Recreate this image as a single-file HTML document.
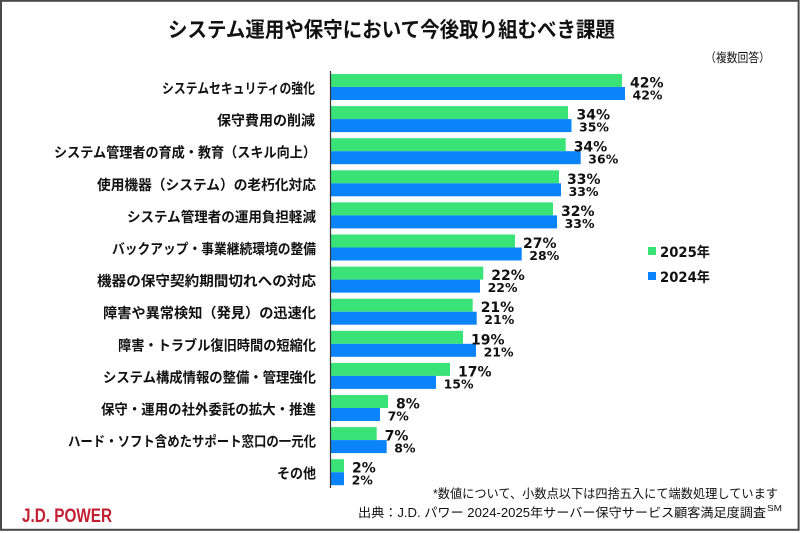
<!DOCTYPE html>
<html>
<head>
<meta charset="utf-8">
<style>
html,body{margin:0;padding:0;background:#fff;}
svg{display:block;}
.cat{font-family:"Noto Sans CJK JP","Liberation Sans",sans-serif;font-weight:bold;font-size:14px;fill:#111;}
.v1{font-family:"DejaVu Sans","Liberation Sans",sans-serif;font-weight:bold;font-size:14px;fill:#111;}
.v2{font-family:"DejaVu Sans","Liberation Sans",sans-serif;font-weight:bold;font-size:12.5px;fill:#111;}
</style>
</head>
<body>
<svg width="800" height="533" viewBox="0 0 800 533" xmlns="http://www.w3.org/2000/svg">
<rect x="0" y="0" width="800" height="533" fill="#fff"/>
<rect x="1" y="0.8" width="797.6" height="529" fill="none" stroke="#4a4a4a" stroke-width="2"/>

<!-- Title -->
<text x="168" y="37" textLength="447" lengthAdjust="spacingAndGlyphs" style="font-family:'Noto Sans CJK JP',sans-serif;font-weight:bold;font-size:21px;fill:#111;">システム運用や保守において今後取り組むべき課題</text>
<text x="705" y="62" textLength="65" lengthAdjust="spacingAndGlyphs" style="font-family:'Noto Sans CJK JP',sans-serif;font-size:12.5px;fill:#111;">（複数回答）</text>

<!-- Bars -->
<g>
<rect x="331" y="74" width="291" height="13" fill="#3ae378"/>
<rect x="331" y="87" width="294" height="13" fill="#0a84f8"/>
<rect x="331" y="106.1" width="237" height="13" fill="#3ae378"/>
<rect x="331" y="119.1" width="240.5" height="13" fill="#0a84f8"/>
<rect x="331" y="138.2" width="234.7" height="13" fill="#3ae378"/>
<rect x="331" y="151.2" width="249.7" height="13" fill="#0a84f8"/>
<rect x="331" y="170.3" width="228" height="13" fill="#3ae378"/>
<rect x="331" y="183.3" width="230" height="13" fill="#0a84f8"/>
<rect x="331" y="202.4" width="222" height="13" fill="#3ae378"/>
<rect x="331" y="215.4" width="226" height="13" fill="#0a84f8"/>
<rect x="331" y="234.5" width="184" height="13" fill="#3ae378"/>
<rect x="331" y="247.5" width="190.7" height="13" fill="#0a84f8"/>
<rect x="331" y="266.6" width="152.3" height="13" fill="#3ae378"/>
<rect x="331" y="279.6" width="149" height="13" fill="#0a84f8"/>
<rect x="331" y="298.7" width="141.7" height="13" fill="#3ae378"/>
<rect x="331" y="311.7" width="145.7" height="13" fill="#0a84f8"/>
<rect x="331" y="330.8" width="132" height="13" fill="#3ae378"/>
<rect x="331" y="343.8" width="145" height="13" fill="#0a84f8"/>
<rect x="331" y="362.9" width="119" height="13" fill="#3ae378"/>
<rect x="331" y="375.9" width="105" height="13" fill="#0a84f8"/>
<rect x="331" y="395" width="57" height="13" fill="#3ae378"/>
<rect x="331" y="408" width="49" height="13" fill="#0a84f8"/>
<rect x="331" y="427.1" width="45.7" height="13" fill="#3ae378"/>
<rect x="331" y="440.1" width="55.7" height="13" fill="#0a84f8"/>
<rect x="331" y="459.2" width="13" height="13" fill="#3ae378"/>
<rect x="331" y="472.2" width="13" height="13" fill="#0a84f8"/>
</g>

<!-- Axis -->
<line x1="330.5" y1="71" x2="330.5" y2="488" stroke="#333" stroke-width="1.2"/>

<!-- Value labels -->
<g>
<text class="v1" x="630" y="87.5">42%</text><text class="v2" x="632.5" y="99.5">42%</text>
<text class="v1" x="576.5" y="119.6">34%</text><text class="v2" x="579" y="131.6">35%</text>
<text class="v1" x="573.7" y="151.7">34%</text><text class="v2" x="588.3" y="163.7">36%</text>
<text class="v1" x="567" y="183.8">33%</text><text class="v2" x="568.6" y="195.8">33%</text>
<text class="v1" x="561" y="215.9">32%</text><text class="v2" x="564.6" y="227.9">33%</text>
<text class="v1" x="523" y="248">27%</text><text class="v2" x="529.3" y="260">28%</text>
<text class="v1" x="491.3" y="280.1">22%</text><text class="v2" x="487.6" y="292.1">22%</text>
<text class="v1" x="480.7" y="312.2">21%</text><text class="v2" x="484.3" y="324.2">21%</text>
<text class="v1" x="471" y="344.3">19%</text><text class="v2" x="483.6" y="356.3">21%</text>
<text class="v1" x="458" y="376.4">17%</text><text class="v2" x="443.6" y="388.4">15%</text>
<text class="v1" x="396" y="408.5">8%</text><text class="v2" x="387.6" y="420.5">7%</text>
<text class="v1" x="384.7" y="440.6">7%</text><text class="v2" x="394.3" y="452.6">8%</text>
<text class="v1" x="352" y="472.7">2%</text><text class="v2" x="351.6" y="484.7">2%</text>
</g>

<!-- Category labels -->
<g>
<text class="cat" x="162" y="93.5" textLength="153" lengthAdjust="spacingAndGlyphs">システムセキュリティの強化</text>
<text class="cat" x="217" y="125.6" textLength="98" lengthAdjust="spacingAndGlyphs">保守費用の削減</text>
<text class="cat" x="54" y="157.7" textLength="262" lengthAdjust="spacingAndGlyphs">システム管理者の育成・教育（スキル向上）</text>
<text class="cat" x="97" y="189.8" textLength="219" lengthAdjust="spacingAndGlyphs">使用機器（システム）の老朽化対応</text>
<text class="cat" x="127" y="221.9" textLength="189" lengthAdjust="spacingAndGlyphs">システム管理者の運用負担軽減</text>
<text class="cat" x="112" y="254" textLength="204" lengthAdjust="spacingAndGlyphs">バックアップ・事業継続環境の整備</text>
<text class="cat" x="97" y="286.1" textLength="219" lengthAdjust="spacingAndGlyphs">機器の保守契約期間切れへの対応</text>
<text class="cat" x="103" y="318.2" textLength="213" lengthAdjust="spacingAndGlyphs">障害や異常検知（発見）の迅速化</text>
<text class="cat" x="118" y="350.3" textLength="198" lengthAdjust="spacingAndGlyphs">障害・トラブル復旧時間の短縮化</text>
<text class="cat" x="103" y="382.4" textLength="213" lengthAdjust="spacingAndGlyphs">システム構成情報の整備・管理強化</text>
<text class="cat" x="101" y="414.5" textLength="215" lengthAdjust="spacingAndGlyphs">保守・運用の社外委託の拡大・推進</text>
<text class="cat" x="68" y="446.6" textLength="248" lengthAdjust="spacingAndGlyphs">ハード・ソフト含めたサポート窓口の一元化</text>
<text class="cat" x="277" y="478.7" textLength="39" lengthAdjust="spacingAndGlyphs">その他</text>
</g>

<!-- Legend -->
<rect x="648" y="247" width="8" height="8" fill="#3ae378"/>
<text x="660" y="257" textLength="50" lengthAdjust="spacingAndGlyphs" style="font-family:'DejaVu Sans','Noto Sans CJK JP',sans-serif;font-weight:bold;font-size:14px;fill:#111;">2025年</text>
<rect x="648" y="272" width="8" height="8" fill="#0a84f8"/>
<text x="660" y="282" textLength="50" lengthAdjust="spacingAndGlyphs" style="font-family:'DejaVu Sans','Noto Sans CJK JP',sans-serif;font-weight:bold;font-size:14px;fill:#111;">2024年</text>

<!-- Footer -->
<text x="433" y="498" textLength="345" lengthAdjust="spacingAndGlyphs" style="font-family:'Liberation Sans','Noto Sans CJK JP',sans-serif;font-size:12.5px;fill:#111;">*数値について、小数点以下は四捨五入にて端数処理しています</text>
<text x="358" y="517" textLength="408" lengthAdjust="spacingAndGlyphs" style="font-family:'Liberation Sans','Noto Sans CJK JP',sans-serif;font-size:12.5px;fill:#111;">出典：J.D. パワー 2024-2025年サーバー保守サービス顧客満足度調査</text>
<text x="767" y="511" textLength="15" lengthAdjust="spacingAndGlyphs" style="font-family:'Liberation Sans',sans-serif;font-size:8px;fill:#111;">SM</text>

<!-- Logo -->
<text x="22" y="522" textLength="90" lengthAdjust="spacingAndGlyphs" style="font-family:'Liberation Sans',sans-serif;font-weight:bold;font-size:19px;fill:#c21f32;">J.D. POWER</text>
</svg>
</body>
</html>
